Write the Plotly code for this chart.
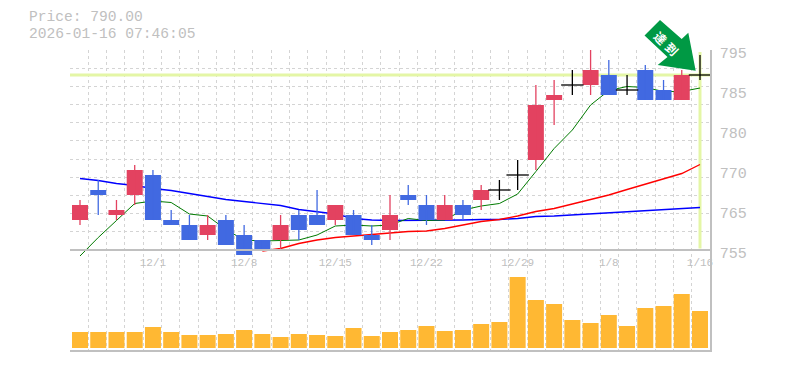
import plotly.graph_objects as go

W, H = 785, 370

dates = ["11/25","11/26","11/27","11/28","12/1","12/2","12/3","12/4","12/5","12/8","12/9","12/10","12/11","12/12",
         "12/15","12/16","12/17","12/18","12/19","12/22","12/23","12/24","12/25","12/26","12/29","12/30",
         "1/5","1/6","1/7","1/8","1/9","1/13","1/14","1/15","1/16"]
opens  = [761,767,762,766,770,761,760,758,761,758,757,757,762,762,761,762,758,759,766,764,761,764,765,767,770,773,785,788,788,790,787,791,787,785,790]
highs  = [765,769,765,772,771,763,762,762,762,760,757,762,763,767,764,763,760,766,768,766,766,765,768,769,773,788,789,791,795,793,790,792,789,791,794]
lows   = [760,762,761,764,761,760,757,757,756,754,755,755,757,760,760,758,756,757,764,760,761,761,763,765,767,771,780,786,786,786,786,785,785,785,789]
closes = [764,766,763,771,761,760,757,760,756,754,755,760,759,760,764,758,757,762,765,761,764,762,767,767,770,784,786,788,791,786,787,785,785,790,790]
volumes = [16,16,16,16,21,16,13,13,14,18,14,11,14,13,12,20,12,16,18,22,17,18,24,26,71,48,44,28,25,33,22,40,42,54,37]
ma_short = [753.8,757.5,760.9,764.3,764.8,764.5,762.2,761.8,759.1,757,756.8,756.9,757,758,759.8,760,759.8,760,
            761.3,760.9,761,763,763.8,764.3,766.2,770.7,775.3,779,784,786.9,787.7,787.5,786.7,786.7,787.4]
ma_mid = [None]*10 + [754.8,755.3,756.3,757,757.5,757.8,758,758.3,758.7,758.8,759.3,760,760.7,761.1,761.8,762.7,763.3,
                      764.2,765.1,766,767.1,768.2,769.2,770.3,772.1]
ma_long = [769.3,768.9,768.3,767.9,767.3,766.9,766.3,765.7,765.1,764.7,764.3,763.9,763.1,762.7,762.2,761.3,761,760.9,
           760.9,760.9,760.9,761,761.1,761.1,761.3,761.7,761.8,762,762.3,762.5,762.7,762.9,763.1,763.3,763.5]
last_price = 790
price_ticks = [755,763,771,779,787,795]
price_labels = ["755","765","770","780","785","795"]
date_tick_idx = [4,9,14,19,24,29,34]

RED, BLUE, GREY, GRID, HL = "#e34260", "#4169e1", "#c0c0c0", "#d4d4d4", "#e4f6a6"
MONO = "Liberation Mono"
STEP = 620/34           # candle spacing in px
BAR_W = 16/STEP

idx = list(range(len(dates)))
lo_y, hi_y = 755, 795
pad_lo = 752            # price axis runs a little below its baseline so low candles can overhang
xrange = [-10/STEP, 34+10/STEP]
fig = go.Figure()

fig.add_trace(go.Scatter(x=xrange, y=[last_price]*2, mode="lines", line=dict(color=HL, width=3), xaxis="x2", yaxis="y2"))
fig.add_trace(go.Scatter(x=[idx[-1]]*2, y=[hi_y-0.4, lo_y+0.3], mode="lines", line=dict(color=HL, width=3), xaxis="x2", yaxis="y2"))
for ys, col, w in [(ma_long, "#0000ff", 1.35), (ma_mid, "#ff0000", 1.35), (ma_short, "#007a00", 1.0)]:
    fig.add_trace(go.Scatter(x=idx, y=ys, mode="lines", line=dict(color=col, width=w), cliponaxis=False, xaxis="x2", yaxis="y2"))

def group(test):
    return [i for i in idx if test(opens[i], closes[i])]
for members, col in [(group(lambda o, c: c > o), RED), (group(lambda o, c: c < o), BLUE), (group(lambda o, c: c == o), "#000000")]:
    wx, wy = [], []
    for i in members:
        wx += [i, i, None]
        wy += [lows[i], highs[i], None]
    fig.add_trace(go.Scatter(x=wx, y=wy, mode="lines", line=dict(color=col, width=1.3), cliponaxis=False, xaxis="x2", yaxis="y3"))
    if col == "#000000":
        fig.add_trace(go.Scatter(x=members, y=[closes[i] for i in members], mode="markers",
                                 marker=dict(symbol="line-ew", size=16, line=dict(color=col, width=1.3)),
                                 cliponaxis=False, xaxis="x2", yaxis="y3"))
    else:
        fig.add_trace(go.Bar(x=members, y=[abs(closes[i]-opens[i]) for i in members],
                             base=[min(closes[i], opens[i]) for i in members], width=BAR_W,
                             marker=dict(color=col, line=dict(width=0)), xaxis="x2", yaxis="y3"))

fig.add_trace(go.Bar(x=idx, y=volumes, width=BAR_W, marker=dict(color="#ffb833", line=dict(width=0)), xaxis="x", yaxis="y"))

grid_vals = [(70+k*640/35-80)/STEP for k in range(36)]
minor_x = dict(tickvals=grid_vals, showgrid=True, gridcolor=GRID, griddash="3px,3px", gridwidth=1, ticklen=0)
split = 85/300

fig.update_layout(
    width=W, height=H, autosize=False, showlegend=False, barmode="overlay",
    margin=dict(l=70, r=75, t=50, b=20, pad=0),
    paper_bgcolor="white", plot_bgcolor="white",
    font=dict(family=MONO, color=GREY),
    xaxis=dict(domain=[0,1], range=xrange, anchor="y", showgrid=False, zeroline=False, showline=True, linecolor=GREY, linewidth=2,
               showticklabels=False, ticks="", tickvals=[], minor=minor_x),
    yaxis=dict(domain=[0,split], range=[-2,83], side="right", anchor="x", showgrid=False, zeroline=False, showline=True, linecolor=GREY, linewidth=1.5,
               showticklabels=False, ticks=""),
    xaxis2=dict(domain=[0,1], range=xrange, anchor="free", position=1/3, showgrid=False, zeroline=False, showline=True, linecolor=GREY, linewidth=2,
                tickmode="array", tickvals=date_tick_idx, ticktext=[dates[i] for i in date_tick_idx],
                tickfont=dict(family=MONO, size=11, color=GREY), ticks="", ticklabelstandoff=2, minor=minor_x),
    yaxis2=dict(domain=[split,1], range=[pad_lo,hi_y], side="right", anchor="x2", zeroline=False, showgrid=False, showline=True,
                linecolor=GREY, linewidth=1.5, tickmode="array", tickvals=price_ticks, ticktext=price_labels,
                tickfont=dict(family=MONO, size=15, color=GREY), ticks="", ticklabelstandoff=5, ticklabelshift=3,
                minor=dict(tickvals=[lo_y+(hi_y-lo_y)*k/11 for k in range(12)], showgrid=True, gridcolor=GRID, griddash="3px,3px", gridwidth=1, ticklen=0)),
    yaxis3=dict(range=[pad_lo,hi_y], domain=[split,1], overlaying="y2", anchor="x2", side="right", visible=False),
)

def px(x): return (x-70)/640
def py(y): return (350-y)/300
arrow = [(660,20),(644.5,35.5),(667.5,57),(657.7,65),(695.7,70.7),(688.3,32.7),(681.7,39)]
path = "M " + " L ".join(f"{px(a)},{py(b)}" for a, b in arrow) + " Z"
fig.add_shape(type="path", path=path, xref="paper", yref="paper", fillcolor="#009944", line=dict(width=0), layer="above")

ann = dict(xref="paper", yref="paper", showarrow=False, xanchor="center", yanchor="middle")
fig.add_annotation(x=px(661), y=py(37.5), text="<b>達</b>", textangle=45, font=dict(family="Noto Sans CJK JP", size=12, color="white"), **ann)
fig.add_annotation(x=px(672), y=py(49), text="<b>到</b>", textangle=45, font=dict(family="Noto Sans CJK JP", size=12, color="white"), **ann)
for t, y in [("Price: 790.00", 17.2), ("2026-01-16 07:46:05", 33.7)]:
    fig.add_annotation(x=px(28), y=py(y), text=t, font=dict(family=MONO, size=14.6, color=GREY), xref="paper", yref="paper",
                       showarrow=False, xanchor="left", yanchor="middle", borderpad=0)

fig.write_html("out.html", config=dict(displayModeBar=False), post_script="document.body.style.margin='0';document.body.style.overflow='hidden';")
